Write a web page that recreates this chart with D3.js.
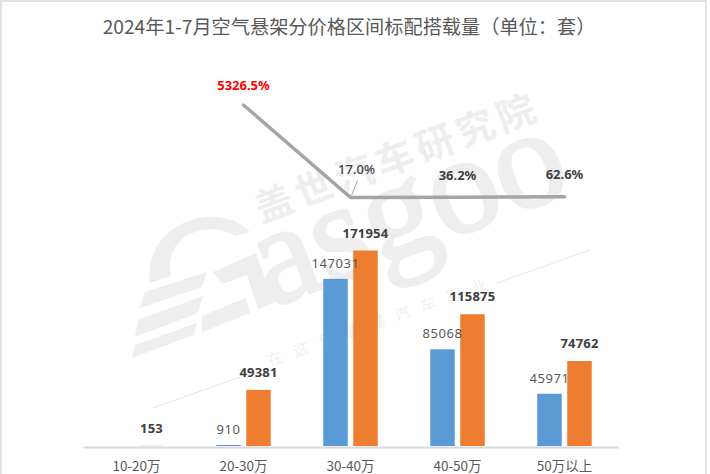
<!DOCTYPE html>
<html>
<head>
<meta charset="utf-8">
<script src="https://cdn.jsdelivr.net/npm/d3@7"></script>
<style>
body { margin: 0; background: #fff; }
svg { display: block; }
text { font-family: "Noto Sans CJK SC", "Noto Sans", sans-serif; }
.num { font-family: "Noto Sans", sans-serif; }
</style>
</head>
<body>
<svg width="710" height="474"></svg>
<script>
var categories = ["10-20万", "20-30万", "30-40万", "40-50万", "50万以上"];
var values2023 = [0, 910, 147031, 85068, 45971];
var values2024 = [153, 49381, 171954, 115875, 74762];
var growthCategories = ["20-30万", "30-40万", "40-50万", "50万以上"];
var growth = [5326.5, 17.0, 36.2, 62.6];
var growthLabels = ["5326.5%", "17.0%", "36.2%", "62.6%"];

var svg = d3.select("svg"),
    width = +svg.attr("width"),
    height = +svg.attr("height");

// frame of the screenshot
svg.append("rect")
    .attr("x", 1).attr("y", 1)
    .attr("width", width - 5).attr("height", height + 10)
    .attr("fill", "#fff")
    .attr("stroke", "#e2e2e2")
    .attr("stroke-width", 2);

// watermark, sits under the bars
var wm = svg.append("g").attr("fill", "#eeeeee");

wm.append("text")
    .attr("transform", "translate(261,223) rotate(-20.5)")
    .attr("font-size", 38)
    .attr("font-weight", 700)
    .attr("letter-spacing", 5)
    .text("盖世汽车研究院");

wm.append("text")
    .attr("transform", "translate(270,366) rotate(-19.5)")
    .attr("font-size", 15)
    .attr("letter-spacing", 12)
    .attr("fill", "#f0f0f0")
    .text("在这里读懂汽车行业");

wm.append("text")
    .attr("transform", "translate(270,308) rotate(-21)")
    .attr("font-size", 140)
    .attr("stroke", "#eeeeee")
    .attr("stroke-width", 3)
    .style("font-family", "'Liberation Serif', serif")
    .text("asgoo");

// G logo
wm.append("path")
    .attr("d", "M150,283 C145,250 168,222 205,217 C225,215 240,222 250,232 L235,236 C225,230 215,228 205,230 C183,232 165,250 171,276 Z");
wm.append("path")
    .attr("d", "M145,292 L207,272 L202,287 L140,308 Z M138,320 L203,296 L198,313 L135,337 Z M135,345 L197,323 L193,335 L132,358 Z");
wm.append("path")
    .attr("d", "M213,272 L256,253 L274,303 L258,309 L247,275 L222,284 Z M202,316 L246,298 L250,313 L202,332 Z");

// thin rules either side of the slogan
wm.append("path")
    .attr("d", "M153,408 L240,377 M497,283 L590,250")
    .attr("fill", "none")
    .attr("stroke", "#e6e6e6")
    .attr("stroke-width", 1);

// chart title
svg.append("text")
    .attr("x", 349)
    .attr("y", 33.5)
    .attr("text-anchor", "middle")
    .attr("font-size", 19.2)
    .attr("fill", "#595959")
    .text("2024年1-7月空气悬架分价格区间标配搭载量（单位：套）");

var x = d3.scaleBand()
    .domain(categories)
    .range([83, 618]);

var y = d3.scaleLinear()
    .domain([0, 171954])
    .range([446, 250.5]);

// growth line has its own axis, nothing drawn for it
var yGrowth = d3.scaleLinear()
    .domain([17, 5326.5])
    .range([197.5, 105]);

var barW = 24.5, gap = 5.5;

svg.selectAll(".bar23")
    .data(values2023)
    .enter()
    .append("rect")
    .attr("class", "bar23")
    .attr("x", function (d, i) { return x(categories[i]) + x.bandwidth() / 2 - gap / 2 - barW; })
    .attr("y", function (d) { return y(d); })
    .attr("width", barW)
    .attr("height", function (d) { return y(0) - y(d); })
    .attr("fill", "#5b9bd5");

svg.selectAll(".bar24")
    .data(values2024)
    .enter()
    .append("rect")
    .attr("class", "bar24")
    .attr("x", function (d, i) { return x(categories[i]) + x.bandwidth() / 2 + gap / 2; })
    .attr("y", function (d) { return y(d); })
    .attr("width", barW)
    .attr("height", function (d) { return y(0) - y(d); })
    .attr("fill", "#ed7d31");

// x axis
var axis = svg.append("g")
    .attr("transform", "translate(0,447)")
    .call(d3.axisBottom(x).tickSize(0).tickPadding(14));
axis.select(".domain").attr("stroke", "#d9d9d9").attr("stroke-width", 2);
axis.selectAll("text")
    .attr("font-size", 13.5)
    .attr("fill", "#595959")
    .style("font-family", "'Noto Sans CJK SC', sans-serif");

// value labels
svg.selectAll(".lab23")
    .data(values2023)
    .enter()
    .filter(function (d) { return d > 0; })
    .append("text")
    .attr("class", "num")
    .attr("x", function (d) {
        return x(categories[values2023.indexOf(d)]) + x.bandwidth() / 2 - gap / 2 - barW / 2;
    })
    .attr("y", function (d) { return y(d) - 11; })
    .attr("text-anchor", "middle")
    .attr("font-size", 13)
    .attr("letter-spacing", 0.6)
    .attr("fill", "#595959")
    .text(function (d) { return d; });

svg.selectAll(".lab24")
    .data(values2024)
    .enter()
    .append("text")
    .attr("class", "num")
    .attr("x", function (d, i) { return x(categories[i]) + x.bandwidth() / 2 + gap / 2 + barW / 2; })
    .attr("y", function (d) { return y(d) - 13; })
    .attr("text-anchor", "middle")
    .attr("font-size", 13)
    .attr("letter-spacing", 0.2)
    .attr("font-weight", 700)
    .attr("fill", "#404040")
    .text(function (d) { return d; });

// growth line
var line = d3.line()
    .x(function (d, i) { return x(growthCategories[i]) + x.bandwidth() / 2; })
    .y(function (d) { return yGrowth(d); });

svg.append("path")
    .datum(growth)
    .attr("d", line)
    .attr("fill", "none")
    .attr("stroke", "#a5a5a5")
    .attr("stroke-width", 3.5)
    .attr("stroke-linecap", "round")
    .attr("stroke-linejoin", "round");

// leader for the 17.0% label
svg.append("line")
    .attr("x1", x("30-40万") + x.bandwidth() / 2 + 1)
    .attr("y1", yGrowth(17) - 2)
    .attr("x2", x("30-40万") + x.bandwidth() / 2 + 7)
    .attr("y2", yGrowth(17) - 17)
    .attr("stroke", "#a6a6a6")
    .attr("stroke-width", 1);

var growthOffsetX = [0, 6, 0, 0];
var growthOffsetY = [-15, -24, -17, -18];
var growthWeight = [700, 500, 700, 700];

svg.selectAll(".growthLab")
    .data(growthLabels)
    .enter()
    .append("text")
    .attr("class", "num")
    .attr("x", function (d, i) { return x(growthCategories[i]) + x.bandwidth() / 2 + growthOffsetX[i]; })
    .attr("y", function (d, i) { return yGrowth(growth[i]) + growthOffsetY[i]; })
    .attr("text-anchor", "middle")
    .attr("font-size", 13)
    .attr("font-weight", function (d, i) { return growthWeight[i]; })
    .attr("fill", function (d, i) { return i === 0 ? "#ff0000" : "#404040"; })
    .text(function (d) { return d; });
</script>
</body>
</html>
